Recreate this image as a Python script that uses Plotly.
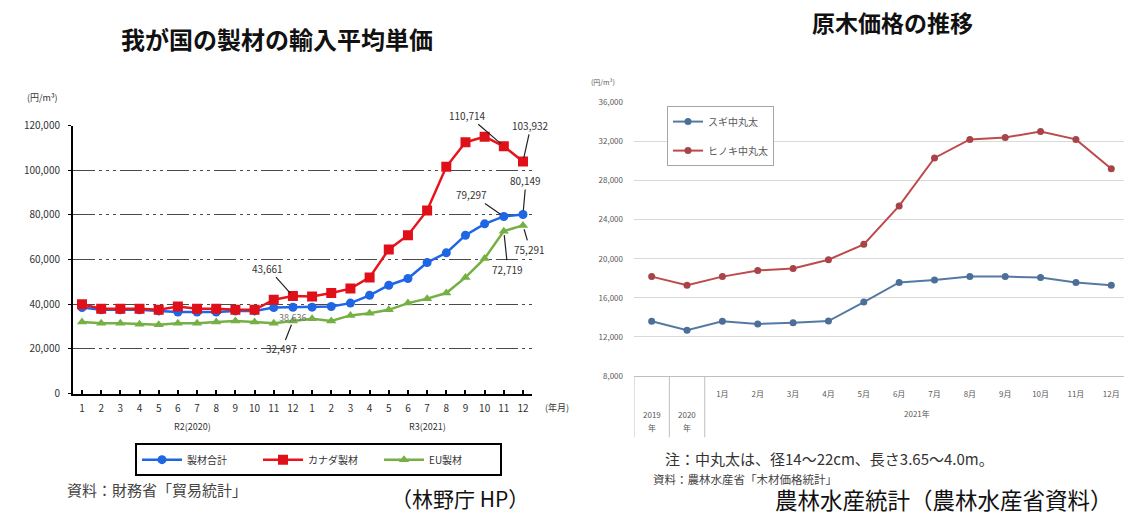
import plotly.graph_objects as go

W, H = 1124, 522
def px(x): return x / W
def py(y): return 1 - y / H

FONT = "Noto Sans CJK JP"

# ---------------- left chart data ----------------
months_left = [str(m) for m in range(1, 13)] * 2
total = [38500, 37500, 37500, 37500, 37000, 36500, 36500, 36500, 37000, 37000, 38500, 38636,
         38700, 39000, 40500, 44000, 48500, 51500, 58700, 63000, 70900, 76000, 79297, 80149]
canada = [40000, 38000, 38000, 38000, 37500, 39000, 38000, 38000, 37500, 37500, 42000, 43661,
          43500, 45000, 47000, 52000, 64500, 70900, 82000, 101500, 112500, 115000, 110714, 103932]
eu = [32000, 31500, 31500, 31000, 30800, 31500, 31500, 32000, 32500, 32000, 31500, 32497,
      33500, 32500, 35000, 36000, 37500, 40500, 42500, 45000, 52000, 60500, 72719, 75291]
left_names = ["製材合計", "カナダ製材", "EU製材"]
left_yticks = [0, 20000, 40000, 60000, 80000, 100000, 120000]

# ---------------- right chart data ----------------
cats_right = ["2019年", "2020年"] + [f"{m}月" for m in range(1, 13)]
month_labels_right = ["", ""] + [f"{m}月" for m in range(1, 13)]
sugi = [13600, 12700, 13600, 13330, 13450, 13630, 15570, 17570, 17830, 18170, 18170, 18070, 17570, 17300]
hinoki = [18170, 17300, 18170, 18800, 19000, 19900, 21470, 25400, 30300, 32200, 32400, 33000, 32200, 29200]
right_names = ["スギ中丸太", "ヒノキ中丸太"]
right_yticks = [8000, 12000, 16000, 20000, 24000, 28000, 32000, 36000]

xl = list(range(len(months_left)))

fig = go.Figure()

# left traces
fig.add_trace(go.Scatter(x=xl, y=total, name=left_names[0], mode="lines+markers",
                         line=dict(color="#1f66e5", width=2.5),
                         marker=dict(symbol="circle", size=9, color="#1f66e5"),
                         xaxis="x", yaxis="y", legend="legend"))
fig.add_trace(go.Scatter(x=xl, y=canada, name=left_names[1], mode="lines+markers",
                         line=dict(color="#e8141c", width=2.5),
                         marker=dict(symbol="square", size=10, color="#e0101a"),
                         xaxis="x", yaxis="y", legend="legend"))
fig.add_trace(go.Scatter(x=xl, y=eu, name=left_names[2], mode="lines+markers",
                         line=dict(color="#74b043", width=2.5),
                         marker=dict(symbol="triangle-up", size=9, color="#74b043"),
                         xaxis="x", yaxis="y", legend="legend"))

# right traces
fig.add_trace(go.Scatter(x=cats_right, y=sugi, name=right_names[0], mode="lines+markers",
                         line=dict(color="#5479a3", width=2),
                         marker=dict(symbol="circle", size=7, color="#4c6f99"),
                         xaxis="x2", yaxis="y2", legend="legend2", legendgroup="a"))
fig.add_trace(go.Scatter(x=cats_right, y=hinoki, name=right_names[1], mode="lines+markers",
                         line=dict(color="#bd4a4c", width=2),
                         marker=dict(symbol="circle", size=7, color="#a84448"),
                         xaxis="x2", yaxis="y2", legend="legend2", legendgroup="b"))

grid_dash = "22px,4px,3px,4px,3px,4px,3px,4px"

fig.update_layout(
    width=W, height=H,
    margin=dict(l=0, r=0, t=0, b=0),
    paper_bgcolor="white", plot_bgcolor="white",
    font=dict(family=FONT, color="#333333"),
    xaxis=dict(domain=[px(73), px(532)], range=[-0.47, 23.47], anchor="y",
               tickvals=xl, ticktext=months_left,
               showline=True, linecolor="black", linewidth=2,
               ticks="inside", ticklen=4, tickwidth=1.5, tickcolor="black",
               showgrid=False, zeroline=False,
               tickfont=dict(size=10, color="#333333"), ticklabelstandoff=4),
    yaxis=dict(domain=[py(397), py(121)], range=[0, 120000], anchor="x",
               tickvals=left_yticks, tickformat=",d",
               showline=True, linecolor="black", linewidth=2,
               ticks="outside", ticklen=3, tickcolor="black",
               showgrid=True, gridcolor="#4a4a4a", gridwidth=1.3, griddash=grid_dash,
               zeroline=False,
               tickfont=dict(size=10, color="#333333"), ticklabelstandoff=6),
    xaxis2=dict(domain=[px(634), 1.0], range=[-0.5, 13.36], type="category", anchor="y2",
                tickvals=cats_right, ticktext=month_labels_right,
                showline=True, linecolor="#bfbfbf", linewidth=1,
                ticks="", showgrid=False, zeroline=False,
                tickfont=dict(size=8, color="#595959"), ticklabelstandoff=10),
    yaxis2=dict(domain=[py(379), py(97)], range=[8000, 36000], anchor="x2",
                tickvals=right_yticks, tickformat=",d",
                showline=False, ticks="", showgrid=True, gridcolor="#d9d9d9", gridwidth=1,
                zeroline=False,
                tickfont=dict(size=8, color="#595959"), ticklabelstandoff=10),
    legend=dict(orientation="h", x=px(135), y=py(448), xanchor="left", yanchor="top",
                bordercolor="black", borderwidth=2, bgcolor="white",
                font=dict(size=10, color="#333333"),
                entrywidth=66, itemwidth=40),
    legend2=dict(orientation="v", x=px(667), y=py(101), xanchor="left", yanchor="top",
                 bordercolor="#a6a6a6", borderwidth=1, bgcolor="white",
                 font=dict(size=10, color="#595959"), tracegroupgap=10, itemwidth=30),
)

# category separators under right x-axis
for xv in [-0.5, 0.5, 1.5]:
    fig.add_shape(type="line", xref="x2", yref="paper", x0=xv, x1=xv, y0=py(379), y1=py(442),
                  line=dict(color="#bfbfbf", width=1))

ann = []
def text(x, y, s, size, color="#333333", bold=False, xanchor="center", xref="paper"):
    ann.append(dict(x=(px(x) if xref == "paper" else x), y=py(y), xref=xref, yref="paper",
                    text=(f"<b>{s}</b>" if bold else s),
                    showarrow=False, xanchor=xanchor, yanchor="middle",
                    font=dict(size=size, color=color, family=FONT)))

# titles
text(277, 31, "我が国の製材の輸入平均単価", 24, "#111111", bold=True)
text(892, 14, "原木価格の推移", 23, "#111111", bold=True)

# left extra labels
text(42, 92, "(円/m³)", 9)
text(557, 411, "(年月)", 9)
text(192, 431, "R2(2020)", 9)
text(427, 431, "R3(2021)", 9)
text(65, 496, "資料：財務省「貿易統計」", 15, "#444444", xanchor="left")
text(460, 505, "（林野庁 HP）", 21, "#111111")

# right extra labels
text(603, 76, "(円/m³)", 7, "#595959")
text(0, 419, "2019", 8, "#595959", xref="x2")
text(0, 432, "年", 8, "#595959", xref="x2")
text(1, 419, "2020", 8, "#595959", xref="x2")
text(1, 432, "年", 8, "#595959", xref="x2")
text(7.5, 418, "2021年", 8, "#595959", xref="x2")
text(663, 464, "注：中丸太は、径14～22cm、長さ3.65～4.0m。", 15, "#333333", xanchor="left")
text(651, 485, "資料：農林水産省「木材価格統計」", 11.5, "#444444", xanchor="left")
text(944, 506, "農林水産統計（農林水産省資料）", 22.5, "#111111")

# value callouts on the left chart
callouts = [
    (11, canada[11], -25, -28),
    (11, eu[11], -11, 28),
    (22, canada[22], -36, -31),
    (23, canada[23], 8, -36),
    (22, total[22], -32, -22),
    (23, total[23], 3, -34),
    (23, eu[23], 7, 24),
    (22, eu[22], 4, 38),
]
for xi, v, ax, ay in callouts:
    ann.append(dict(x=xi, y=v, xref="x", yref="y", text=f"{v:,}", showarrow=True,
                    arrowhead=0, arrowwidth=1.2, arrowcolor="#222222", ax=ax, ay=ay,
                    standoff=4, font=dict(size=10, color="#333333", family=FONT)))
ann.append(dict(x=11, y=total[11], xref="x", yref="y", text=f"{total[11]:,}", showarrow=False,
                yshift=-10, font=dict(size=9, color="#777777", family=FONT)))

fig.update_layout(annotations=ann)
fig.write_html("out.html")
